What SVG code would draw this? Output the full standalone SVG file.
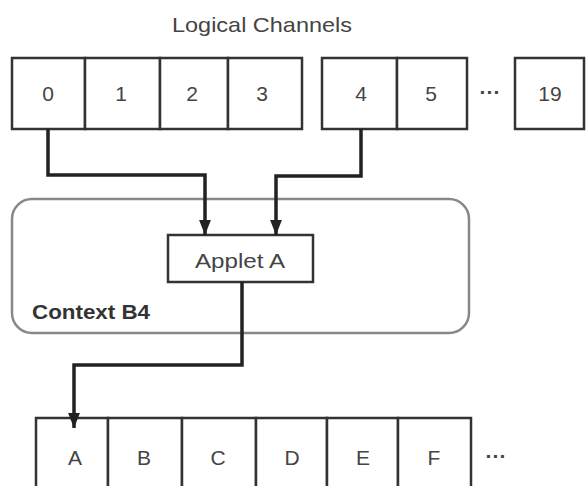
<svg xmlns="http://www.w3.org/2000/svg" width="586" height="486" viewBox="0 0 586 486">
<style>
.cell{fill:#fff;stroke:#333;stroke-width:2.5}
.t{font-family:"Liberation Sans",Arial,sans-serif;font-size:21px;fill:#444;text-anchor:middle}
.conn{fill:none;stroke:#222;stroke-width:3.5}
</style>
<defs>
<marker id="arr" markerWidth="15" markerHeight="19" refX="19" refY="7.5" orient="auto" markerUnits="userSpaceOnUse" viewBox="0 0 19 15">
<path d="M0,0 L19,7.5 L0,15 Z" fill="#222"/>
</marker>
</defs>
<rect width="586" height="486" fill="#fff"/>
<text class="t" x="262" y="32" font-size="22" textLength="180" lengthAdjust="spacingAndGlyphs">Logical Channels</text>
<g id="context">
<rect x="12" y="199" width="457" height="134" rx="20" fill="#fff" stroke="#888" stroke-width="2.5"/>
<text x="32" y="319" font-family="Liberation Sans,Arial,sans-serif" font-size="21" font-weight="bold" fill="#333" textLength="118" lengthAdjust="spacingAndGlyphs">Context B4</text>
</g>
<g id="channels">
<rect class="cell" x="12" y="58" width="73" height="71"/><text class="t" x="48" y="101">0</text>
<rect class="cell" x="85" y="58" width="75" height="71"/><text class="t" x="121" y="101">1</text>
<rect class="cell" x="160" y="58" width="68" height="71"/><text class="t" x="192" y="101">2</text>
<rect class="cell" x="228" y="58" width="74" height="71"/><text class="t" x="262" y="101">3</text>
<rect class="cell" x="322" y="58" width="75" height="71"/><text class="t" x="361" y="101">4</text>
<rect class="cell" x="397" y="58" width="70" height="71"/><text class="t" x="431" y="101">5</text>
<text class="t" x="490" y="99" font-weight="bold">···</text>
<rect class="cell" x="515" y="58" width="69" height="71"/><text class="t" x="550" y="101">19</text>
</g>
<g id="applet">
<rect class="cell" x="168" y="235" width="145" height="47"/>
<text class="t" x="240" y="268" font-size="22" textLength="90" lengthAdjust="spacingAndGlyphs">Applet A</text>
</g>
<g id="files">
<rect class="cell" x="36" y="418" width="72" height="80"/><text class="t" x="75" y="465">A</text>
<rect class="cell" x="108" y="418" width="74" height="80"/><text class="t" x="144" y="465">B</text>
<rect class="cell" x="182" y="418" width="74" height="80"/><text class="t" x="218" y="465">C</text>
<rect class="cell" x="256" y="418" width="71" height="80"/><text class="t" x="292" y="465">D</text>
<rect class="cell" x="327" y="418" width="71" height="80"/><text class="t" x="363" y="465">E</text>
<rect class="cell" x="398" y="418" width="73" height="80"/><text class="t" x="434" y="465">F</text>
<text class="t" x="496" y="463" font-weight="bold">···</text>
</g>
<g id="connectors">
<path class="conn" d="M48,129 V175 H205 V235" marker-end="url(#arr)"/>
<path class="conn" d="M361,129 V176 H276 V235" marker-end="url(#arr)"/>
<path class="conn" d="M242,282 V365 H74 V428" marker-end="url(#arr)"/>
</g>
</svg>
